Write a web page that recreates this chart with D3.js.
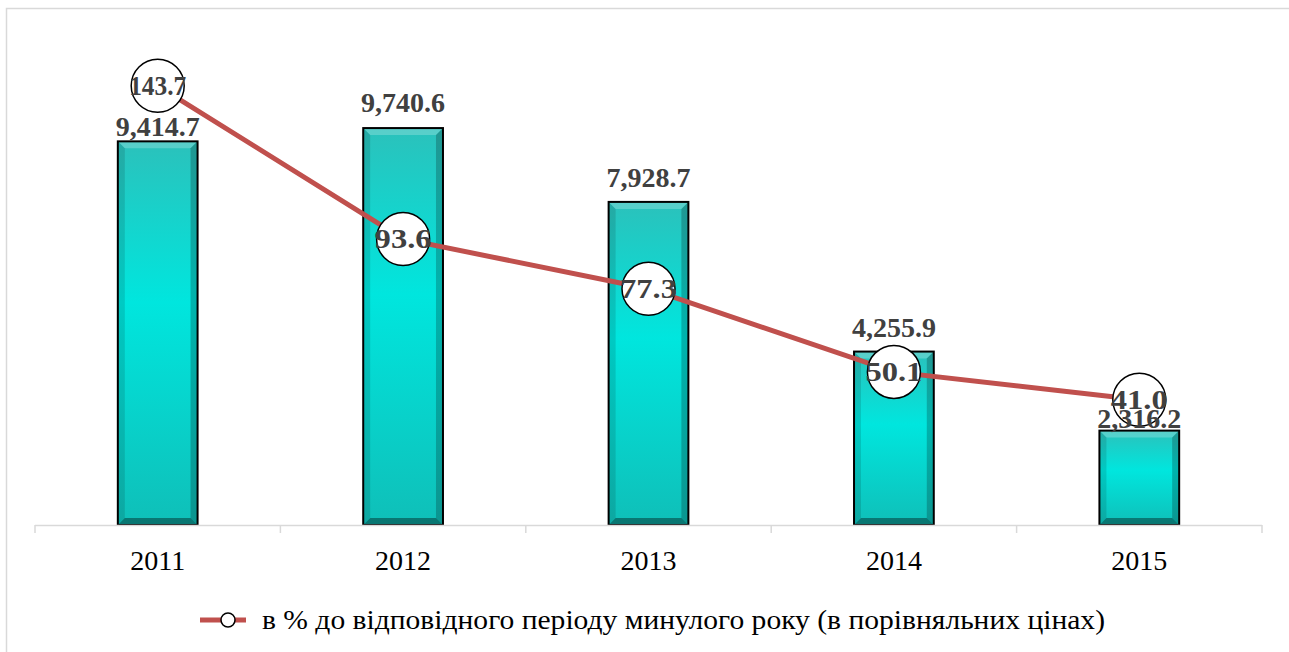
<!DOCTYPE html>
<html>
<head>
<meta charset="utf-8">
<script src="https://cdn.jsdelivr.net/npm/d3@7"></script>
<style>
  html, body { margin: 0; padding: 0; background: #fff; }
  svg { display: block; }
  text { font-family: "Times New Roman", "Liberation Serif", Times, serif; }
</style>
</head>
<body>
<svg id="chart" width="1289" height="652"></svg>
<script>
// Data
const years = ["2011", "2012", "2013", "2014", "2015"];
const volume = [9414.7, 9740.6, 7928.7, 4255.9, 2316.2];
const percent = [143.7, 93.6, 77.3, 50.1, 41.0];
const legendLabel = "в % до відповідного періоду минулого року (в порівняльних цінах)";

const svg = d3.select("#chart");
const W = 1289, H = 652;
const plot = { left: 35, right: 1262, top: 36, bottom: 525 };
// gap between each bar top and its value label baseline
const labelLift = [5, 16, 15, 15, 3];

// Outer frame
svg.append("path")
  .attr("d", `M6.5,${H + 2} V8.5 H${W + 2}`)
  .attr("fill", "none").attr("stroke", "#d9d9d9").attr("stroke-width", 1.5);

const x = d3.scaleBand().domain(years).range([plot.left, plot.right]).paddingInner(0).paddingOuter(0);
const y = d3.scaleLinear().domain([0, 12000]).range([plot.bottom, plot.top]);
const y2 = d3.scaleLinear().domain([0, 160]).range([plot.bottom, plot.top]);
const barW = x.bandwidth() * 0.325;
const cx = (d, i) => x(years[i]) + x.bandwidth() / 2;

// Gradients
const defs = svg.append("defs");
const g = defs.append("linearGradient").attr("id", "barFill")
  .attr("x1", 0).attr("y1", 0).attr("x2", 0).attr("y2", 1);
g.append("stop").attr("offset", "0%").attr("stop-color", "#2bc1bb");
g.append("stop").attr("offset", "42%").attr("stop-color", "#00e6de");
g.append("stop").attr("offset", "100%").attr("stop-color", "#0fbfb8");

// Bars with bevelled edges
const bars = svg.append("g");
years.forEach((yr, i) => {
  const x0 = x(yr) + (x.bandwidth() - barW) / 2, x1 = x0 + barW;
  const y0 = y(volume[i]), y1 = y(0);
  const b = 7;
  const gb = bars.append("g");
  gb.append("rect").attr("x", x0).attr("y", y0).attr("width", barW).attr("height", y1 - y0)
    .attr("fill", "url(#barFill)");
  const poly = (pts, fill, op) => gb.append("polygon")
    .attr("points", pts.map(p => p.join(",")).join(" "))
    .attr("fill", fill).attr("fill-opacity", op);
  poly([[x0, y0], [x1, y0], [x1 - b, y0 + b], [x0 + b, y0 + b]], "#ffffff", 0.22);
  poly([[x0, y0], [x0 + b, y0 + b], [x0 + b, y1 - b], [x0, y1]], "#000000", 0.12);
  poly([[x1, y0], [x1 - b, y0 + b], [x1 - b, y1 - b], [x1, y1]], "#000000", 0.22);
  poly([[x0, y1], [x0 + b, y1 - b], [x1 - b, y1 - b], [x1, y1]], "#000000", 0.38);
  gb.append("rect").attr("x", x0).attr("y", y0).attr("width", barW).attr("height", y1 - y0)
    .attr("fill", "none").attr("stroke", "#000").attr("stroke-width", 2);
});

// Category axis
const axis = svg.append("g");
axis.append("line").attr("x1", plot.left).attr("x2", plot.right)
  .attr("y1", plot.bottom + 0.5).attr("y2", plot.bottom + 0.5)
  .attr("stroke", "#d9d9d9").attr("stroke-width", 1.5);
const bounds = years.map(d => x(d)).concat([plot.right]);
axis.selectAll("line.tick").data(bounds).enter().append("line")
  .attr("class", "tick")
  .attr("x1", d => d).attr("x2", d => d)
  .attr("y1", plot.bottom).attr("y2", plot.bottom + 8)
  .attr("stroke", "#d9d9d9").attr("stroke-width", 1.5);
axis.selectAll("text").data(years).enter().append("text")
  .attr("x", d => x(d) + x.bandwidth() / 2).attr("y", 570)
  .attr("text-anchor", "middle")
  .attr("font-size", 28).attr("fill", "#000")
  .text(d => d);

// Percent line with markers
svg.append("path").datum(percent)
  .attr("d", d3.line().x(cx).y(d => y2(d)))
  .attr("fill", "none").attr("stroke", "#c0504d").attr("stroke-width", 5);

const pts = svg.append("g").selectAll("g").data(percent).enter().append("g")
  .attr("transform", (d, i) => `translate(${cx(d, i)},${y2(d)})`);
pts.append("circle").attr("r", 26.5).attr("fill", "#fff").attr("stroke", "#000").attr("stroke-width", 1.5);

// Bar value labels
svg.append("g").selectAll("text").data(volume).enter().append("text")
  .attr("x", (d, i) => cx(d, i))
  .attr("y", (d, i) => y(d) - labelLift[i])
  .attr("text-anchor", "middle")
  .attr("font-weight", "bold").attr("font-size", 28).attr("fill", "#404040")
  .text(d => d3.format(",.1f")(d));

// Percent labels
pts.append("text").attr("y", 9).attr("text-anchor", "middle")
  .attr("font-weight", "bold").attr("font-size", 27).attr("fill", "#404040")
  .attr("textLength", 57).attr("lengthAdjust", "spacingAndGlyphs")
  .text(d => d.toFixed(1));

// Legend
const lg = svg.append("g").attr("transform", "translate(200,620)");
lg.append("line").attr("x1", 0).attr("x2", 46).attr("y1", 0).attr("y2", 0)
  .attr("stroke", "#c0504d").attr("stroke-width", 5);
lg.append("circle").attr("cx", 28).attr("r", 7).attr("fill", "#fff").attr("stroke", "#000").attr("stroke-width", 1.5);
lg.append("text").attr("x", 62).attr("y", 9)
  .attr("font-size", 27).attr("fill", "#000")
  .attr("textLength", 843).attr("lengthAdjust", "spacingAndGlyphs")
  .text(legendLabel);
</script>
</body>
</html>
